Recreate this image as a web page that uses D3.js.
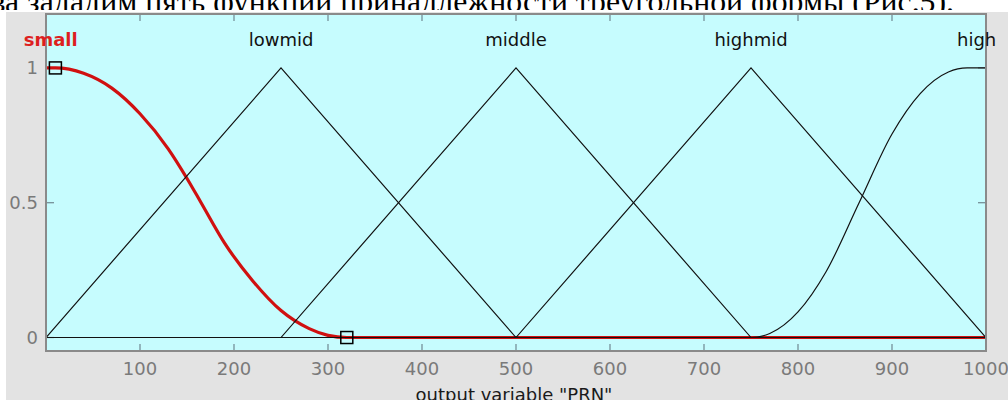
<!DOCTYPE html>
<html>
<head>
<meta charset="utf-8">
<script src="https://cdn.jsdelivr.net/npm/d3@7/dist/d3.min.js"></script>
<style>
  html, body { margin: 0; padding: 0; background: #fff; }
  svg { display: block; }
</style>
</head>
<body>
<div id="chart"></div>
<script>
// membership functions of output variable "PRN"
var mfNames = ['small', 'lowmid', 'middle', 'highmid', 'high'];
var mfLabelX = [5, 250, 500, 750, 990];
// points (x, membership)
var smallX = [0, 10, 40, 70, 100, 130, 150, 165, 190, 220, 250, 280, 300, 320, 1000];
var smallY = [1, 1, 0.98, 0.925, 0.83, 0.70, 0.59, 0.50, 0.35, 0.21, 0.10, 0.033, 0.008, 0, 0];
var lowmidX = [0, 250, 500, 1000];
var lowmidY = [0, 1, 0, 0];
var middleX = [0, 250, 500, 750, 1000];
var middleY = [0, 0, 1, 0, 0];
var highmidX = [0, 500, 750, 1000];
var highmidY = [0, 0, 1, 0];
var highX = [0, 750, 770, 800, 830, 865, 900, 930, 960, 980, 1000];
var highY = [0, 0, 0.015, 0.095, 0.245, 0.5, 0.755, 0.905, 0.985, 1, 1];
// square handles of the selected function
var handleX = [10, 320];
var handleY = [1, 0];
// ticks
var xTicks = [100, 200, 300, 400, 500, 600, 700, 800, 900, 1000];
var yTicks = [0, 0.5, 1];
var xTitle = 'output variable "PRN"';
var caption = 'ва зададим пять функций принадлежности треугольной формы (Рис.5).';

var width = 1008, height = 400;
var svg = d3.select('#chart').append('svg')
    .attr('width', width)
    .attr('height', height);

// caption line of the page (cut by the figure)
var cap = svg.append('text')
    .style('font-family', "'Liberation Serif', 'DejaVu Serif', serif")
    .attr('font-size', 30)
    .attr('fill', '#000')
    .attr('text-anchor', 'end')
    .attr('x', 954)
    .attr('y', 12)
    .text(caption);
// fit the visible part "зададим ... (Рис.5)." between x=27 and x=954
var fullLen = cap.node().getComputedTextLength();
var headLen = cap.node().getSubStringLength(0, 3);
cap.attr('font-size', 30 * 927 / (fullLen - headLen));

// figure image: white margin, then gray panel
svg.append('rect').attr('x', 0).attr('y', 10).attr('width', width).attr('height', height - 10).attr('fill', '#fff');
svg.append('rect').attr('x', 6).attr('y', 12).attr('width', width - 6).attr('height', height - 12).attr('fill', '#e3e3e3');

var x = d3.scaleLinear().domain([0, 1000]).range([46, 986]);
var y = d3.scaleLinear().domain([-0.05, 1.2]).range([351, 14]);

// plot area
svg.append('rect')
    .attr('x', x(0)).attr('y', y(1.2))
    .attr('width', x(1000) - x(0)).attr('height', y(-0.05) - y(1.2))
    .attr('fill', '#c6fcfe');

// ticks top / bottom / left / right
var tickColor = '#6f8790';
var g = svg.append('g');
g.selectAll('.xb').data(xTicks).enter().append('line')
    .attr('x1', d => x(d)).attr('x2', d => x(d))
    .attr('y1', y(-0.05)).attr('y2', y(-0.05) - 7)
    .attr('stroke', tickColor).attr('stroke-width', 1.2);
g.selectAll('.xt').data(xTicks).enter().append('line')
    .attr('x1', d => x(d)).attr('x2', d => x(d))
    .attr('y1', y(1.2)).attr('y2', y(1.2) + 7)
    .attr('stroke', tickColor).attr('stroke-width', 1.2);
g.selectAll('.yl').data(yTicks).enter().append('line')
    .attr('x1', x(0)).attr('x2', x(0) + 8)
    .attr('y1', d => y(d)).attr('y2', d => y(d))
    .attr('stroke', tickColor).attr('stroke-width', 1.2);
g.selectAll('.yr').data(yTicks).enter().append('line')
    .attr('x1', x(1000)).attr('x2', x(1000) - 8)
    .attr('y1', d => y(d)).attr('y2', d => y(d))
    .attr('stroke', tickColor).attr('stroke-width', 1.2);

// tick labels
var font = '"DejaVu Sans", sans-serif';
svg.append('g').selectAll('text').data(xTicks).enter().append('text')
    .attr('x', d => x(d)).attr('y', 375)
    .attr('text-anchor', 'middle')
    .attr('font-family', font).attr('font-size', 18)
    .attr('fill', '#7a7a7a')
    .text(d => d);
svg.append('g').selectAll('text').data(yTicks).enter().append('text')
    .attr('x', 38).attr('y', d => y(d) + 6.5)
    .attr('text-anchor', 'end')
    .attr('font-family', font).attr('font-size', 18)
    .attr('fill', '#7a7a7a')
    .text(d => d);

svg.append('text')
    .attr('x', 514).attr('y', 401)
    .attr('text-anchor', 'middle')
    .attr('font-family', font).attr('font-size', 18)
    .attr('fill', '#1a1a1a')
    .text(xTitle);

// curves
var line = d3.line().x(d => x(d[0])).y(d => y(d[1]));
var smooth = d3.line().x(d => x(d[0])).y(d => y(d[1])).curve(d3.curveMonotoneX);
function pts(xs, ys) { return xs.map((v, i) => [v, ys[i]]); }

var curves = svg.append('g').attr('fill', 'none');
// selected function first, black ones on top
curves.append('path')
    .attr('d', smooth(pts(smallX, smallY)))
    .attr('stroke', '#d01010').attr('stroke-width', 3.2)
    .attr('stroke-linejoin', 'round');
[[lowmidX, lowmidY], [middleX, middleY], [highmidX, highmidY]].forEach(function (s) {
    curves.append('path')
        .attr('d', line(pts(s[0], s[1])))
        .attr('stroke', '#111').attr('stroke-width', 1.2);
});
curves.append('path')
    .attr('d', smooth(pts(highX, highY)))
    .attr('stroke', '#111').attr('stroke-width', 1.2);

// handles
svg.append('g').selectAll('rect').data(handleX).enter().append('rect')
    .attr('x', d => x(d) - 6).attr('y', (d, i) => y(handleY[i]) - 6)
    .attr('width', 12).attr('height', 12)
    .attr('fill', 'none').attr('stroke', '#000').attr('stroke-width', 1.5);

// frame
svg.append('rect')
    .attr('x', x(0)).attr('y', y(1.2))
    .attr('width', x(1000) - x(0)).attr('height', y(-0.05) - y(1.2))
    .attr('fill', 'none').attr('stroke', '#8a8a8a').attr('stroke-width', 2);

// function names
svg.append('g').selectAll('text').data(mfNames).enter().append('text')
    .attr('x', (d, i) => x(mfLabelX[i]))
    .attr('y', y(1.1) + 5)
    .attr('text-anchor', 'middle')
    .attr('font-family', font).attr('font-size', 18)
    .attr('font-weight', (d, i) => i === 0 ? 'bold' : 'normal')
    .attr('fill', (d, i) => i === 0 ? '#dd1f1f' : '#111')
    .text(d => d);
</script>
</body>
</html>
